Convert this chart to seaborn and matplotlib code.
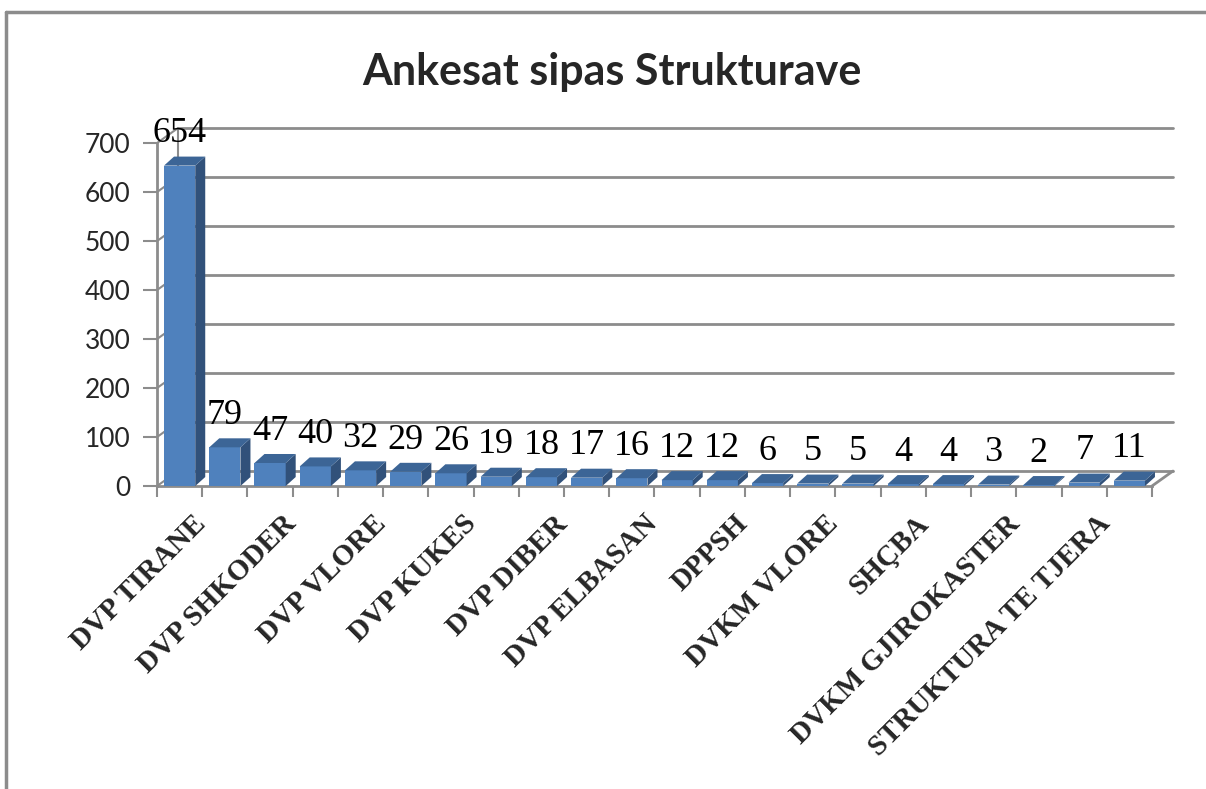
import numpy as np
import pandas as pd
import matplotlib
matplotlib.use("Agg")
import matplotlib.pyplot as plt
import matplotlib.transforms as mtransforms
import seaborn as sns
from matplotlib.patches import Polygon
from matplotlib.lines import Line2D

# data (only every other category name is printed)
labels = ["DVP TIRANE", "", "DVP SHKODER", "", "DVP VLORE", "", "DVP KUKES", "",
          "DVP DIBER", "", "DVP ELBASAN", "", "DPPSH", "", "DVKM VLORE", "",
          "SHÇBA", "", "DVKM GJIROKASTER", "", "STRUKTURA TE TJERA", ""]
counts = [654, 79, 47, 40, 32, 29, 26, 19, 18, 17, 16, 12, 12, 6, 5, 5, 4, 4, 3, 2, 7, 11]
yticks = [0, 100, 200, 300, 400, 500, 600, 700]
title = "Ankesat sipas Strukturave"

face_col = "#4F81BD"
side_col = "#31517A"
top_col = "#3C6596"
grid_col = "#8C8C8C"
serif = ["Liberation Serif", "DejaVu Serif"]

sns.set_style("white")
plt.rcParams["font.family"] = ["Lato", "DejaVu Sans"]

df = pd.DataFrame({"slot": range(len(counts)), "count": counts})

fig = plt.figure(figsize=(12.06, 7.89), dpi=100)
ax = fig.add_axes([0.1302, 0.3840, 0.825, 0.4347])
sns.barplot(data=df, x="slot", y="count", color=face_col, width=0.69,
            saturation=1, edgecolor="none", ax=ax, zorder=3)
ax.set_xlim(-0.5, len(counts) - 0.5)
ax.set_ylim(0, 700)
ax.set_xlabel("")
ax.set_ylabel("")

fig.canvas.draw()
inv = ax.transData.inverted()

def to_data(pts):
    return inv.transform(np.array(pts))

def disp(x, y):
    return ax.transData.transform((x, y))

# back wall / floor offsets and bar depth, in pixels
wdx, wdy = 21, 15
bdx, bdy = 10, 9
x0, x1 = ax.get_xlim()

# back-wall grid lines and side-wall diagonals
for v in yticks:
    a = disp(x0, v) + [wdx, wdy]
    b = disp(x1, v) + [wdx, wdy]
    p = to_data([a, b])
    ax.add_line(Line2D(p[:, 0], p[:, 1], color=grid_col, lw=2, zorder=1, clip_on=False))
    q = to_data([disp(x0, v), a])
    ax.add_line(Line2D(q[:, 0], q[:, 1], color=grid_col, lw=1.5, zorder=1, clip_on=False))
p = to_data([disp(x0, 0) + [wdx, wdy], disp(x0, 700) + [wdx, wdy]])
ax.add_line(Line2D(p[:, 0], p[:, 1], color=grid_col, lw=1.5, zorder=1, clip_on=False))
p = to_data([disp(x1, 0), disp(x1, 0) + [wdx, wdy]])
ax.add_line(Line2D(p[:, 0], p[:, 1], color=grid_col, lw=2, zorder=1, clip_on=False))

# 3D side and top for every bar
for bar in ax.patches[:len(counts)]:
    bx, by = bar.get_x(), bar.get_y()
    bw, bh = bar.get_width(), bar.get_height()
    bl = disp(bx, by + bh)
    br = disp(bx + bw, by + bh)
    r0 = disp(bx + bw, by)
    top = to_data([bl, br, br + [bdx, bdy], bl + [bdx, bdy]])
    side = to_data([r0, br, br + [bdx, bdy], r0 + [bdx, bdy]])
    ax.add_patch(Polygon(side, closed=True, facecolor=side_col, edgecolor="none", zorder=3, clip_on=False))
    ax.add_patch(Polygon(top, closed=True, facecolor=top_col, edgecolor="none", zorder=3, clip_on=False))

ax.bar_label(ax.containers[0], labels=[str(c) for c in counts], padding=11,
             fontsize=26, family=serif, color="black", zorder=4)

# spines and ticks
sns.despine(ax=ax, top=True, right=True)
for s in ["left", "bottom"]:
    ax.spines[s].set_color(grid_col)
    ax.spines[s].set_linewidth(2)
ax.spines["left"].set_zorder(2)
ax.set_yticks(yticks)
ax.tick_params(axis="y", length=10, width=1.5, color=grid_col, labelsize=19,
               labelcolor="#262626", pad=9, left=True)
ax.set_xticks(range(len(counts)))
ax.set_xticklabels(labels, rotation=45, ha="right", rotation_mode="anchor",
                   fontsize=21, fontweight="bold", family=serif)
ax.set_xticks(np.arange(-0.5, len(counts)), minor=True)
ax.tick_params(axis="x", which="major", length=0, pad=16)
ax.tick_params(axis="x", which="minor", length=8, width=1.5, color=grid_col, bottom=True)

# nudge category labels a little to the right, like the original
shift = mtransforms.ScaledTranslation(0.12, -0.02, fig.dpi_scale_trans)
for lab in ax.get_xticklabels():
    lab.set_transform(lab.get_transform() + shift)

fig.text(0.507, 0.909, title, ha="center", va="center", fontsize=31, fontweight="bold")

# outer chart border (top and left visible)
fig.add_artist(Line2D([0.005, 1.0], [0.985, 0.985], color=grid_col, lw=2.5, transform=fig.transFigure))
fig.add_artist(Line2D([0.005, 0.005], [0.0, 0.985], color=grid_col, lw=2.5, transform=fig.transFigure))

fig.savefig("out.png", dpi=100)
